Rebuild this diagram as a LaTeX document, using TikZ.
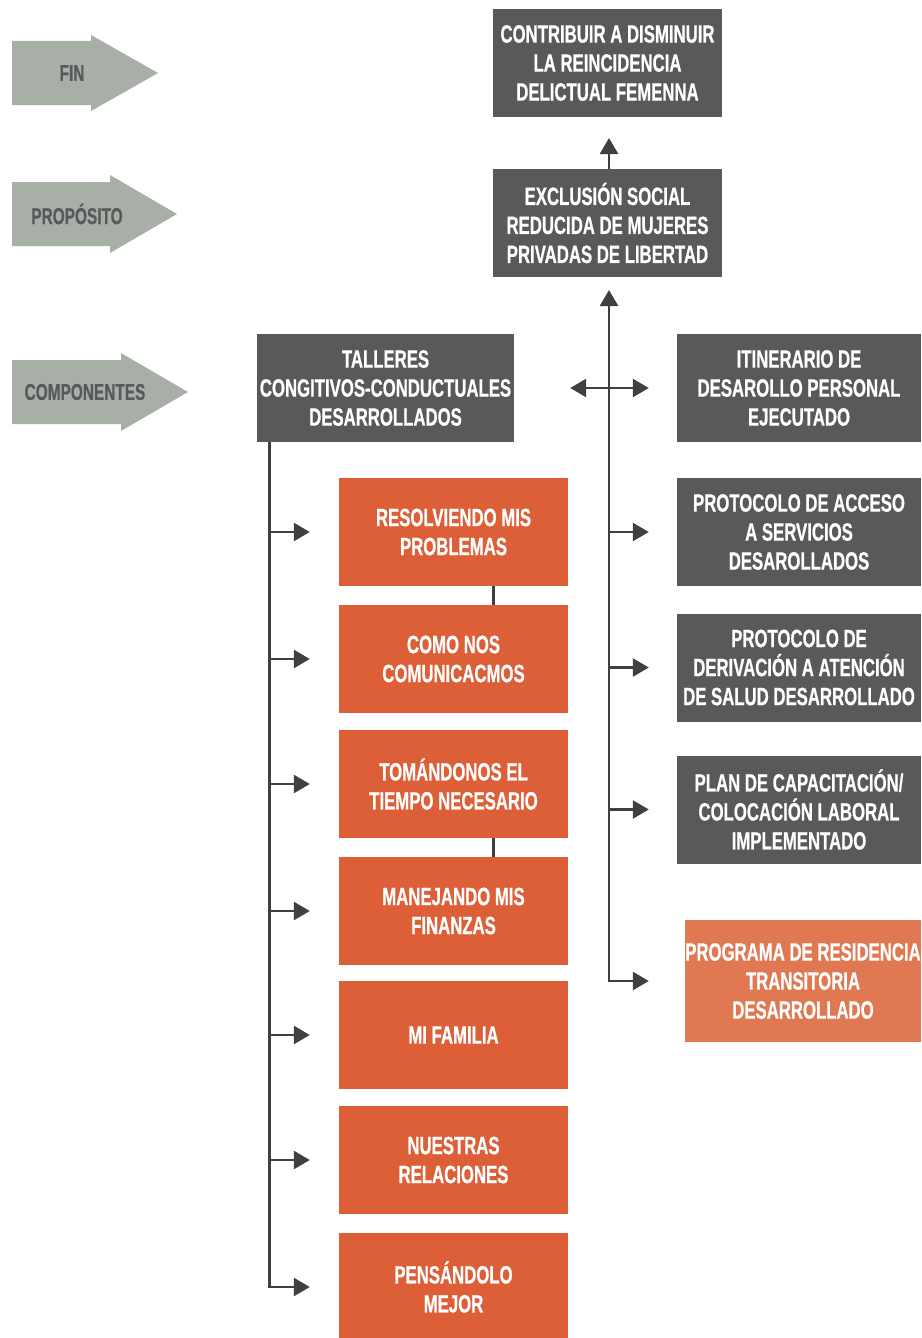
\documentclass[tikz,border=0pt]{standalone}
\usepackage{fontspec}
\newfontfamily\condfont{Liberation Sans}[FakeStretch=0.67,BoldFeatures={FakeBold=0.6}]
\usepackage{tikz}
\usetikzlibrary{arrows.meta}
\usetikzlibrary{calc}
\usepackage{xcolor}
\definecolor{grisosc}{RGB}{88,89,91}
\definecolor{naranja}{RGB}{221,95,55}
\definecolor{naranjac}{RGB}{224,120,82}
\definecolor{grisfl}{RGB}{168,175,167}
\definecolor{trazo}{RGB}{64,64,64}

\tikzset{
  caja/.style={rectangle,fill=grisosc,text=white,align=center,inner sep=0pt,
    minimum height=108pt,font=\condfont\bfseries\fontsize{25}{29}\selectfont},
  taller/.style={caja,fill=naranja,minimum width=229pt},
  derecha/.style={caja,minimum width=244pt},
  nivel/.style={text=grisosc,font=\condfont\bfseries\fontsize{23}{29}\selectfont},
  flecha/.style={-{Triangle[length=16pt,width=18pt]},line width=2.7pt,draw=trazo},
  dflecha/.style={{Triangle[length=16pt,width=18pt]}-{Triangle[length=16pt,width=18pt]},line width=2.7pt,draw=trazo},
  linea/.style={line width=2.2pt,draw=trazo}
}

\begin{document}
\begin{tikzpicture}[x=1pt,y=-1pt]
			\useasboundingbox (0,0) rectangle (921,1338);
			% niveles
			\fill[grisfl] (12,41) -- (91,41) -- (91,35) -- (158,73) -- (91,111) -- (91,105) -- (12,105) -- cycle;
			\fill[grisfl] (12,182) -- (110,182) -- (110,175) -- (177,214) -- (110,253) -- (110,246) -- (12,246) -- cycle;
			\fill[grisfl] (12,360) -- (121,360) -- (121,353) -- (188,392) -- (121,431) -- (121,424) -- (12,424) -- cycle;
			\node(fin) at (72,73)[nivel]{FIN};
			\node(propos) at (77,214)[nivel]{PROPÓSITO};
			\node(compon) at (85,392)[nivel]{COMPONENTES};
			
			\node(contrib) at (607.5,63)[caja,minimum width=229pt]{CONTRIBUIR A DISMINUIR\\LA REINCIDENCIA\\DELICTUAL FEMENNA};
			\node(exclus) at (607.5,223)[caja,minimum width=229pt]{EXCLUSIÓN SOCIAL\\REDUCIDA DE MUJERES\\PRIVADAS DE LIBERTAD};
			\node(talleres) at (385.5,388)[caja,minimum width=257pt]{TALLERES\\CONGITIVOS-CONDUCTUALES\\DESARROLLADOS};
			
			\node(itin) at (799,388)[derecha]{ITINERARIO DE\\DESAROLLO PERSONAL\\EJECUTADO};
			\node(acceso) at (799,532)[derecha]{PROTOCOLO DE ACCESO\\A SERVICIOS\\DESAROLLADOS};
			\node(deriv) at (799,667.5)[derecha]{PROTOCOLO DE\\DERIVACIÓN A ATENCIÓN\\DE SALUD DESARROLLADO};
			\node(plan) at (799,809.5)[derecha]{PLAN DE CAPACITACIÓN/\\COLOCACIÓN LABORAL\\IMPLEMENTADO};
			\node(prog) at (803,981)[caja,fill=naranjac,minimum width=236pt,minimum height=122pt]{PROGRAMA DE RESIDENCIA\\TRANSITORIA\\DESARROLLADO};
			
			\node(t1) at (453.5,532)[taller]{RESOLVIENDO MIS\\PROBLEMAS};
			\node(t2) at (453.5,659)[taller]{COMO NOS\\COMUNICACMOS};
			\node(t3) at (453.5,784)[taller]{TOMÁNDONOS EL\\TIEMPO NECESARIO};
			\node(t4) at (453.5,911)[taller]{MANEJANDO MIS\\FINANZAS};
			\node(t5) at (453.5,1035)[taller]{MI FAMILIA};
			\node(t6) at (453.5,1160)[taller]{NUESTRAS\\RELACIONES};
			\node(t7) at (453.5,1287)[taller]{PENSÁNDOLO\\MEJOR};
			
			% conectores
			\coordinate(ctop) at (609,138);
			\coordinate(mtop) at (609,290);
			\draw[flecha](exclus.north -| ctop) -- (ctop);
			\draw[dflecha,line join=miter](mtop) -- (mtop |- prog.west) -- ([xshift=-36pt]prog.west);
			\foreach \c in {acceso,deriv,plan}
				\draw[flecha](mtop |- \c.west) -- ([xshift=-28pt]\c.west);
			\draw[dflecha]([xshift=56pt]talleres.east) -- ([xshift=-28pt]itin.west);
			
			\coordinate(ltop) at ([xshift=13pt]talleres.south west);
			\draw[flecha,line join=miter](ltop) -- (ltop |- t7.west) -- ([xshift=-29pt]t7.west);
			\foreach \t in {t1,t2,t3,t4,t5,t6}
				\draw[flecha](ltop |- \t.west) -- ([xshift=-29pt]\t.west);
			\draw[linea]([xshift=40pt]t1.south) -- ([xshift=40pt]t2.north);
			\draw[linea]([xshift=40pt]t3.south) -- ([xshift=40pt]t4.north);
		\end{tikzpicture}
\end{document}
